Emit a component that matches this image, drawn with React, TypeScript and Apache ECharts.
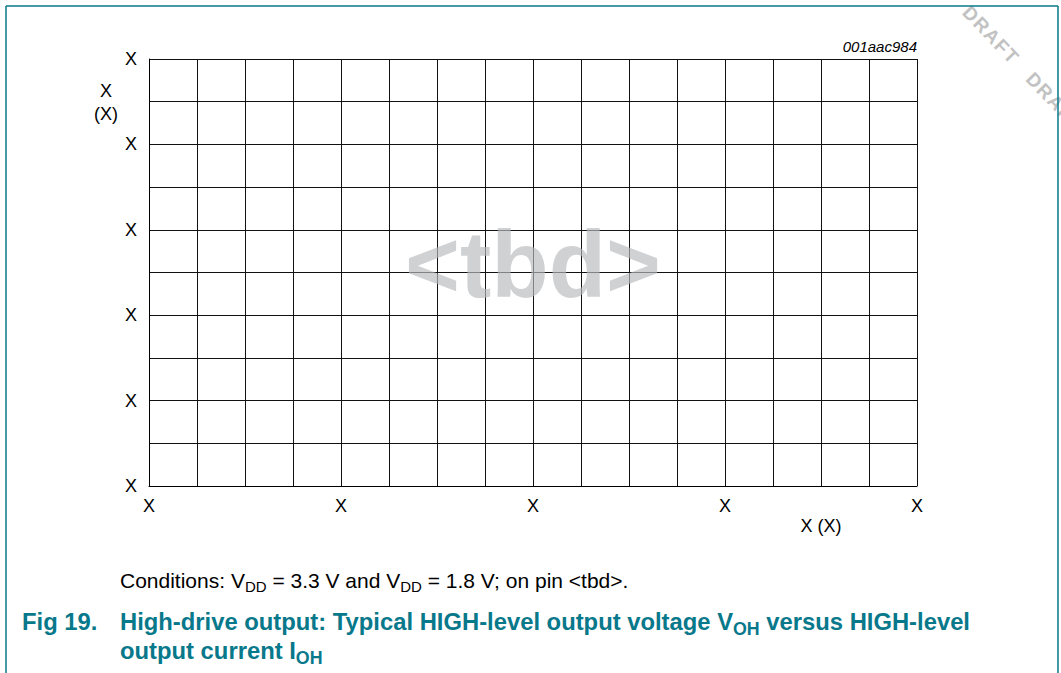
import React, { useEffect, useRef } from "react";
import * as echarts from "echarts";

// ---- data (placeholder chart: labels are all "X") ----
const xTickLabels = ["X", "X", "X", "X", "X"]; // major x ticks (every 4th grid line)
const yTickLabels = ["X", "X", "X", "X", "X", "X"]; // major y ticks (every 2nd grid line)
const xDivisions = 16;
const yDivisions = 10;
const xMajorEvery = 4;
const yMajorEvery = 2;
const seriesData: [number, number][] = []; // curve to be determined (<tbd>)
const xAxisName = "X (X)";
const yAxisNameLines = ["X", "(X)"];
const figureId = "001aac984";
const placeholderText = "<tbd>";
const watermarkWord = "D\u200AR\u200AA\u200AF\u200AT";

const FONT = "'Liberation Sans', Arial, Helvetica, sans-serif";
const TEAL = "#08788b";

export default function App() {
  const ref = useRef<HTMLDivElement>(null);

  useEffect(() => {
    document.body.style.margin = "0";
    if (!ref.current) return;
    const chart = echarts.init(ref.current, undefined, { renderer: "svg" });

    const wmGap = "    ";
    const wmForward = [watermarkWord, watermarkWord, watermarkWord].join(wmGap);
    const wmBack = [watermarkWord, watermarkWord].join(wmGap) + wmGap;
    const wmRot = -0.808;

    const richTitle = {
      n: { fontSize: 23.8, fontWeight: "bold", fontFamily: FONT, fill: TEAL, lineHeight: 32 },
      s: { fontSize: 17.8, fontWeight: "bold", fontFamily: FONT, fill: TEAL, lineHeight: 18, verticalAlign: "bottom" },
    };

    const option: any = {
      animation: false,
      backgroundColor: "#ffffff",
      grid: { left: 149, top: 59, width: 768, height: 427, containLabel: false },
      xAxis: {
        type: "value",
        min: 0,
        max: xDivisions,
        interval: 1,
        axisLine: { show: true, lineStyle: { color: "#000", width: 1 } },
        axisTick: { show: false },
        splitLine: { show: true, lineStyle: { color: "#111", width: 1 } },
        axisLabel: {
          show: true,
          margin: 11,
          color: "#000",
          fontSize: 18,
          fontFamily: FONT,
          showMinLabel: true,
          showMaxLabel: true,
          formatter: (v: number) =>
            Math.round(v) % xMajorEvery === 0 ? xTickLabels[Math.round(v) / xMajorEvery] ?? "" : "",
        },
      },
      yAxis: {
        type: "value",
        min: 0,
        max: yDivisions,
        interval: 1,
        axisLine: { show: true, lineStyle: { color: "#000", width: 1 } },
        axisTick: { show: false },
        splitLine: { show: true, lineStyle: { color: "#111", width: 1 } },
        axisLabel: {
          show: true,
          margin: 12,
          color: "#000",
          fontSize: 18,
          fontFamily: FONT,
          showMinLabel: true,
          showMaxLabel: true,
          formatter: (v: number) =>
            Math.round(v) % yMajorEvery === 0 ? yTickLabels[Math.round(v) / yMajorEvery] ?? "" : "",
        },
      },
      series: [
        {
          type: "line",
          data: seriesData,
          showSymbol: false,
          lineStyle: { color: "#000", width: 1.5 },
        },
      ],
      graphic: [
        // page frame
        { type: "line", z: 50, shape: { x1: 6, y1: 6, x2: 1058, y2: 6 }, style: { stroke: TEAL, lineWidth: 1.5 } },
        { type: "line", z: 50, shape: { x1: 6, y1: 6, x2: 6, y2: 673 }, style: { stroke: TEAL, lineWidth: 1.5 } },
        { type: "line", z: 50, shape: { x1: 1058, y1: 6, x2: 1058, y2: 673 }, style: { stroke: TEAL, lineWidth: 1.5 } },
        // watermark
        {
          type: "text",
          z: 40,
          x: 966,
          y: 9,
          rotation: wmRot,
          style: { text: wmForward, fill: "#c2c2c2", font: `bold 19px ${FONT}`, align: "left", verticalAlign: "middle" },
        },
        {
          type: "text",
          z: 40,
          x: 966,
          y: 9,
          rotation: wmRot,
          style: { text: wmBack, fill: "#c2c2c2", font: `bold 19px ${FONT}`, align: "right", verticalAlign: "middle" },
        },
        // figure id
        {
          type: "text",
          z: 60,
          x: 917,
          y: 46,
          style: { text: figureId, fill: "#000", font: `italic 15px ${FONT}`, align: "right", verticalAlign: "middle" },
        },
        // y axis name
        {
          type: "text",
          z: 60,
          x: 106,
          y: 91,
          style: { text: yAxisNameLines[0], fill: "#000", font: `18px ${FONT}`, align: "center", verticalAlign: "middle" },
        },
        {
          type: "text",
          z: 60,
          x: 106,
          y: 114,
          style: { text: yAxisNameLines[1], fill: "#000", font: `18px ${FONT}`, align: "center", verticalAlign: "middle" },
        },
        // x axis name
        {
          type: "text",
          z: 60,
          x: 821,
          y: 526,
          style: { text: xAxisName, fill: "#000", font: `18px ${FONT}`, align: "center", verticalAlign: "middle" },
        },
        // <tbd> placeholder
        {
          type: "text",
          z: 100,
          x: 533,
          y: 264,
          style: {
            text: placeholderText,
            fill: "#b9bbbe",
            opacity: 0.67,
            font: `bold 94px ${FONT}`,
            align: "center",
            verticalAlign: "middle",
          },
        },
        // conditions
        {
          type: "text",
          z: 60,
          x: 120,
          y: 580.5,
          style: {
            text: "{n|Conditions: V}{s|DD}{n| = 3.3 V and V}{s|DD}{n| = 1.8 V; on pin <tbd>.}",
            align: "left",
            verticalAlign: "middle",
            rich: {
              n: { fontSize: 21, fontFamily: FONT, fill: "#000", lineHeight: 27 },
              s: { fontSize: 15, fontFamily: FONT, fill: "#000", lineHeight: 15, verticalAlign: "bottom" },
            },
          },
        },
        // figure title
        {
          type: "text",
          z: 60,
          x: 22,
          y: 621.7,
          style: { text: "Fig 19.", fill: TEAL, font: `bold 23.8px ${FONT}`, align: "left", verticalAlign: "middle" },
        },
        {
          type: "text",
          z: 60,
          x: 120,
          y: 621.7,
          style: {
            text: "{n|High-drive output: Typical HIGH-level output voltage V}{s|OH}{n| versus HIGH-level}",
            align: "left",
            verticalAlign: "middle",
            rich: richTitle,
          },
        },
        {
          type: "text",
          z: 60,
          x: 120,
          y: 650.7,
          style: {
            text: "{n|output current I}{s|OH}",
            align: "left",
            verticalAlign: "middle",
            rich: richTitle,
          },
        },
      ],
    };

    chart.setOption(option);
    return () => chart.dispose();
  }, []);

  return <div ref={ref} style={{ width: 1061, height: 673 }} />;
}
